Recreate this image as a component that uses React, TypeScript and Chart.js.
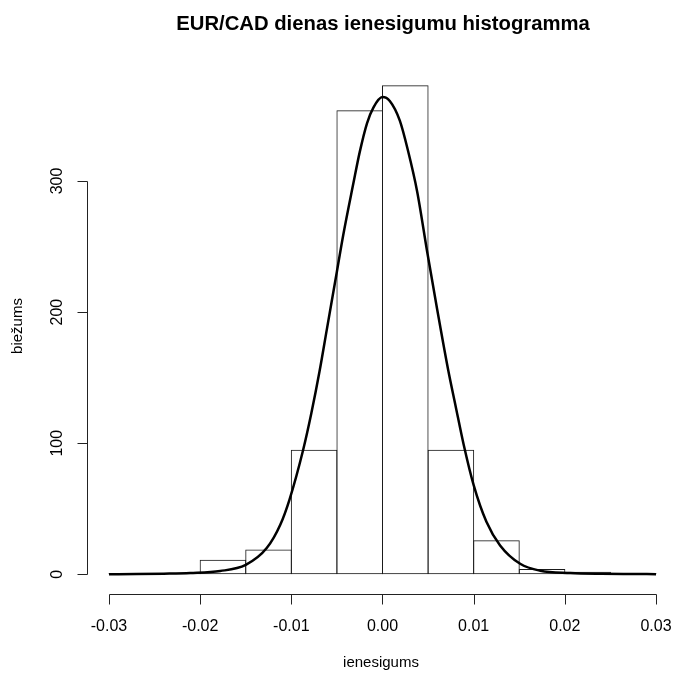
import { useEffect, useRef } from 'react';
import { Chart, registerables } from 'chart.js';

Chart.register(...registerables);

const chartTitle = 'EUR/CAD dienas ienesigumu histogramma';
const xAxisTitle = 'ienesigums';
const yAxisTitle = 'biežums';

const binCenters = [-0.0275, -0.0225, -0.0175, -0.0125, -0.0075, -0.0025, 0.0025, 0.0075, 0.0125, 0.0175, 0.0225, 0.0275];
const binCounts = [1, 1, 11, 19, 95, 354, 373, 95, 26, 4, 2, 1];

const curveX = [-0.03, -0.027, -0.024, -0.0211, -0.0178, -0.015, -0.0127, -0.0112, -0.0102, -0.0087, -0.0078, -0.0069, -0.0061, -0.005, -0.0043, -0.0032, -0.0025, -0.0017, -0.001, 0.0, 0.0008, 0.0019, 0.0028, 0.0038, 0.0049, 0.006, 0.0072, 0.008, 0.0089, 0.01, 0.0114, 0.0129, 0.0151, 0.0173, 0.0206, 0.024, 0.027, 0.03];
const curveY = [0.1, 0.2, 0.5, 1.0, 2.5, 7.2, 20, 38, 57, 95, 123, 155, 187, 231, 259, 298, 322, 344, 356, 364, 361, 346, 323, 292, 246, 202, 156, 129, 99, 68, 40, 22, 8, 2.7, 1.0, 0.4, 0.2, 0.1];

const xTickValues = [-0.03, -0.02, -0.01, 0, 0.01, 0.02, 0.03];
const xTickLabels = ['-0.03', '-0.02', '-0.01', '0.00', '0.01', '0.02', '0.03'];
const yTickValues = [0, 100, 200, 300];
const yTickLabels = ['0', '100', '200', '300'];

const FONT = '"Liberation Sans", Arial, sans-serif';

const rAxesPlugin = {
  id: 'rAxes',
  afterDraw(chart: any) {
    const ctx = chart.ctx as CanvasRenderingContext2D;
    const xs = chart.scales.x;
    const ys = chart.scales.y;
    const area = chart.chartArea;
    ctx.save();
    ctx.strokeStyle = '#222';
    ctx.lineWidth = 1;
    ctx.fillStyle = '#000';

    // x axis
    const axY = Math.round(area.bottom) + 0.5;
    const x0 = Math.round(xs.getPixelForValue(xTickValues[0])) + 0.5;
    const x1 = Math.round(xs.getPixelForValue(xTickValues[xTickValues.length - 1])) + 0.5;
    ctx.beginPath();
    ctx.moveTo(x0, axY);
    ctx.lineTo(x1, axY);
    xTickValues.forEach((v) => {
      const px = Math.round(xs.getPixelForValue(v)) + 0.5;
      ctx.moveTo(px, axY);
      ctx.lineTo(px, axY + 10);
    });
    ctx.stroke();
    ctx.font = `16px ${FONT}`;
    ctx.textAlign = 'center';
    ctx.textBaseline = 'middle';
    xTickValues.forEach((v, i) => {
      ctx.fillText(xTickLabels[i], xs.getPixelForValue(v), axY + 32);
    });

    // y axis
    const axX = Math.round(area.left) + 0.5;
    const y0 = Math.round(ys.getPixelForValue(yTickValues[0])) + 0.5;
    const y1 = Math.round(ys.getPixelForValue(yTickValues[yTickValues.length - 1])) + 0.5;
    ctx.beginPath();
    ctx.moveTo(axX, y0);
    ctx.lineTo(axX, y1);
    yTickValues.forEach((v) => {
      const py = Math.round(ys.getPixelForValue(v)) + 0.5;
      ctx.moveTo(axX, py);
      ctx.lineTo(axX - 10, py);
    });
    ctx.stroke();
    yTickValues.forEach((v, i) => {
      ctx.save();
      ctx.translate(axX - 30, ys.getPixelForValue(v));
      ctx.rotate(-Math.PI / 2);
      ctx.fillText(yTickLabels[i], 0, 0);
      ctx.restore();
    });

    // titles
    const cx = (area.left + area.right) / 2;
    const cy = (area.top + area.bottom) / 2;
    ctx.font = `bold 20.3px ${FONT}`;
    ctx.fillText(chartTitle, cx + 2, 24);
    ctx.font = `15px ${FONT}`;
    ctx.fillText(xAxisTitle, cx, 663);
    ctx.save();
    ctx.translate(18, cy - 4);
    ctx.rotate(-Math.PI / 2);
    ctx.fillText(yAxisTitle, 0, 0);
    ctx.restore();
    ctx.restore();
  },
};

export default function App() {
  const canvasRef = useRef<HTMLCanvasElement | null>(null);

  useEffect(() => {
    if (!canvasRef.current) return;
    const chart = new Chart(canvasRef.current, {
      type: 'bar',
      data: {
        datasets: [
          {
            type: 'line',
            data: curveX.map((x, i) => ({ x, y: curveY[i] })),
            borderColor: '#000',
            borderWidth: 2.5,
            pointRadius: 0,
            fill: false,
            cubicInterpolationMode: 'monotone',
            order: 0,
          } as any,
          {
            type: 'bar',
            data: binCenters.map((x, i) => ({ x, y: binCounts[i] })),
            backgroundColor: 'rgba(255,255,255,0)',
            borderColor: '#1a1a1a',
            borderWidth: 1,
            borderSkipped: false,
            barPercentage: 1.022,
            categoryPercentage: 1,
            order: 1,
          } as any,
        ],
      },
      options: {
        animation: false,
        responsive: false,
        devicePixelRatio: 1,
        layout: { padding: { left: 87, right: 0, top: 66, bottom: 85 } },
        plugins: {
          legend: { display: false },
          title: { display: false },
          tooltip: { enabled: false },
        },
        scales: {
          x: {
            type: 'linear',
            display: false,
            offset: false,
            min: -0.032413,
            max: 0.032084,
            afterBuildTicks: (scale: any) => {
              scale.ticks = xTickValues.map((v) => ({ value: v }));
            },
          },
          y: {
            type: 'linear',
            display: false,
            min: -15.03,
            max: 387.7,
          },
        },
      } as any,
      plugins: [rAxesPlugin],
    });
    return () => chart.destroy();
  }, []);

  return (
    <div style={{ position: 'fixed', left: 0, top: 0, width: 675, height: 679, background: '#fff' }}>
      <canvas ref={canvasRef} width={675} height={679} style={{ display: 'block', width: 675, height: 679 }} />
    </div>
  );
}
